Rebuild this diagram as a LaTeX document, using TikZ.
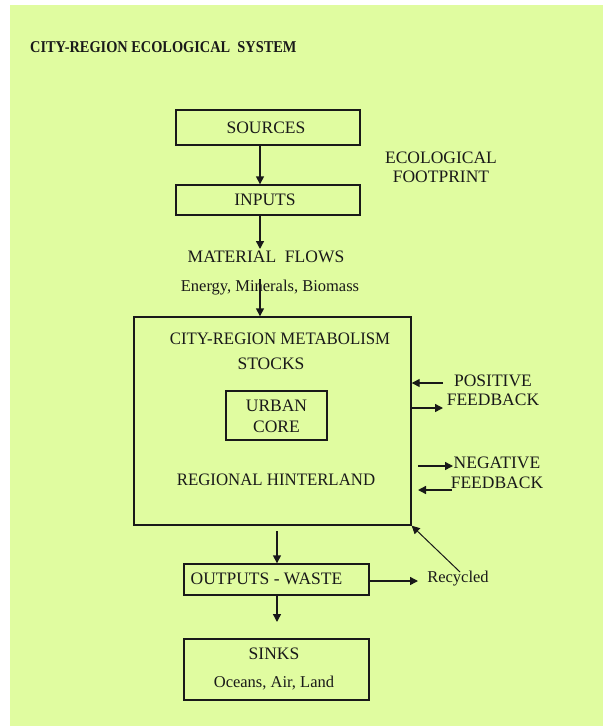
\documentclass[tikz,border=0pt]{standalone}
\usepackage{fontspec}
\setmainfont{Liberation Serif}
\usetikzlibrary{arrows.meta,calc}
\definecolor{bggreen}{RGB}{224,252,160}
\definecolor{ink}{RGB}{25,25,25}
\begin{document}
\begin{tikzpicture}[x=1pt,y=-1pt,
  lbl/.style={inner sep=0pt,font=\fontsize{17.5}{20}\selectfont,text=ink},
  small/.style={inner sep=0pt,font=\fontsize{16.5}{19}\selectfont,text=ink},
  boxx/.style={draw=ink,line width=1.4pt,inner sep=0pt},
  arr/.style={draw=ink,line width=1.4pt,-{Triangle[length=8pt,width=8pt]}}]
\useasboundingbox (0,0) rectangle (603,726);
\fill[bggreen] (10,5) rectangle (603,726);
% title
\node[anchor=west,inner sep=0pt,font=\bfseries\fontsize{16.5}{19}\selectfont,text=ink] (title) at (30,47.5) {\scalebox{0.87}[1]{CITY-REGION ECOLOGICAL\ \ SYSTEM}};
% boxes
\node[boxx,minimum width=184pt,minimum height=35pt] (sources) at (268,127.5) {};
\node[lbl] (sourcestxt) at (266,127.5) {SOURCES};
\node[boxx,minimum width=184pt,minimum height=30pt] (inputs) at (268,200) {};
\node[lbl] (inputstxt) at (265,200) {INPUTS};
\node[lbl] (eco1) at (441,158) {ECOLOGICAL};
\node[lbl] (eco2) at (441,177) {FOOTPRINT};
\node[lbl] (mflows) at (266,257) {MATERIAL\ \ FLOWS};
\node[small] (emb) at (270,288) {Energy, Minerals, Biomass};
\node[boxx,minimum width=277pt,minimum height=208pt] (big) at (272.5,421) {};
\node[lbl] (metab) at (280,339) {\scalebox{0.96}[1]{CITY-REGION METABOLISM}};
\node[lbl] (stocks) at (271,364) {STOCKS};
\node[boxx,minimum width=101pt,minimum height=49pt] (core) at (276.5,415.5) {};
\node[lbl] (urban) at (276.5,406) {URBAN};
\node[lbl] (coretxt) at (276.5,427) {CORE};
\node[lbl] (hinter) at (276,480) {\scalebox{0.96}[1]{REGIONAL HINTERLAND}};
\node[lbl] (pos1) at (493,381) {POSITIVE};
\node[lbl] (pos2) at (493,400) {FEEDBACK};
\node[lbl] (neg1) at (497,463) {NEGATIVE};
\node[lbl] (neg2) at (497,483) {FEEDBACK};
\node[boxx,minimum width=185pt,minimum height=31pt] (outputs) at (276.5,579.5) {};
\node[lbl] (outtxt) at (266.5,579) {OUTPUTS - WASTE};
\node[small] (recycled) at (458,579) {Recycled};
\node[boxx,minimum width=185pt,minimum height=61pt] (sinks) at (276.5,669.5) {};
\node[lbl] (sinkstxt) at (274,654) {SINKS};
\node[small] (land) at (274,683) {Oceans, Air, Land};
% coordinates
\coordinate (ax) at (260,0);
\coordinate (bx) at (277,0);
\coordinate (mfend) at (260,249);
\coordinate (embstart) at (260,279);
\coordinate (p1) at (443,383);
\coordinate (p2) at (443,408);
\coordinate (n1a) at (418,466);
\coordinate (n1b) at (453,466);
\coordinate (n2a) at (452,490);
\coordinate (n2b) at (418,490);
\coordinate (bigout) at (277,531);
\coordinate (recend) at (418,581);
\coordinate (recstart) at (460,572);
\coordinate (sinkend) at (277,622);
% connectors
\draw[arr] (ax |- sources.south) -- (ax |- inputs.north);
\draw[arr] (ax |- inputs.south) -- (mfend);
\draw[arr] (embstart) -- (ax |- big.north);
\draw[arr] (p1) -- (big.east |- p1);
\draw[arr] (big.east |- p2) -- (p2);
\draw[arr] (n1a) -- (n1b);
\draw[arr] (n2a) -- (n2b);
\draw[arr,line width=1pt] (recstart) -- (big.south east);
\draw[arr] (bigout) -- (bx |- outputs.north);
\draw[arr] (outputs.east |- recend) -- (recend);
\draw[arr] (bx |- outputs.south) -- (sinkend);
\end{tikzpicture}
\end{document}
